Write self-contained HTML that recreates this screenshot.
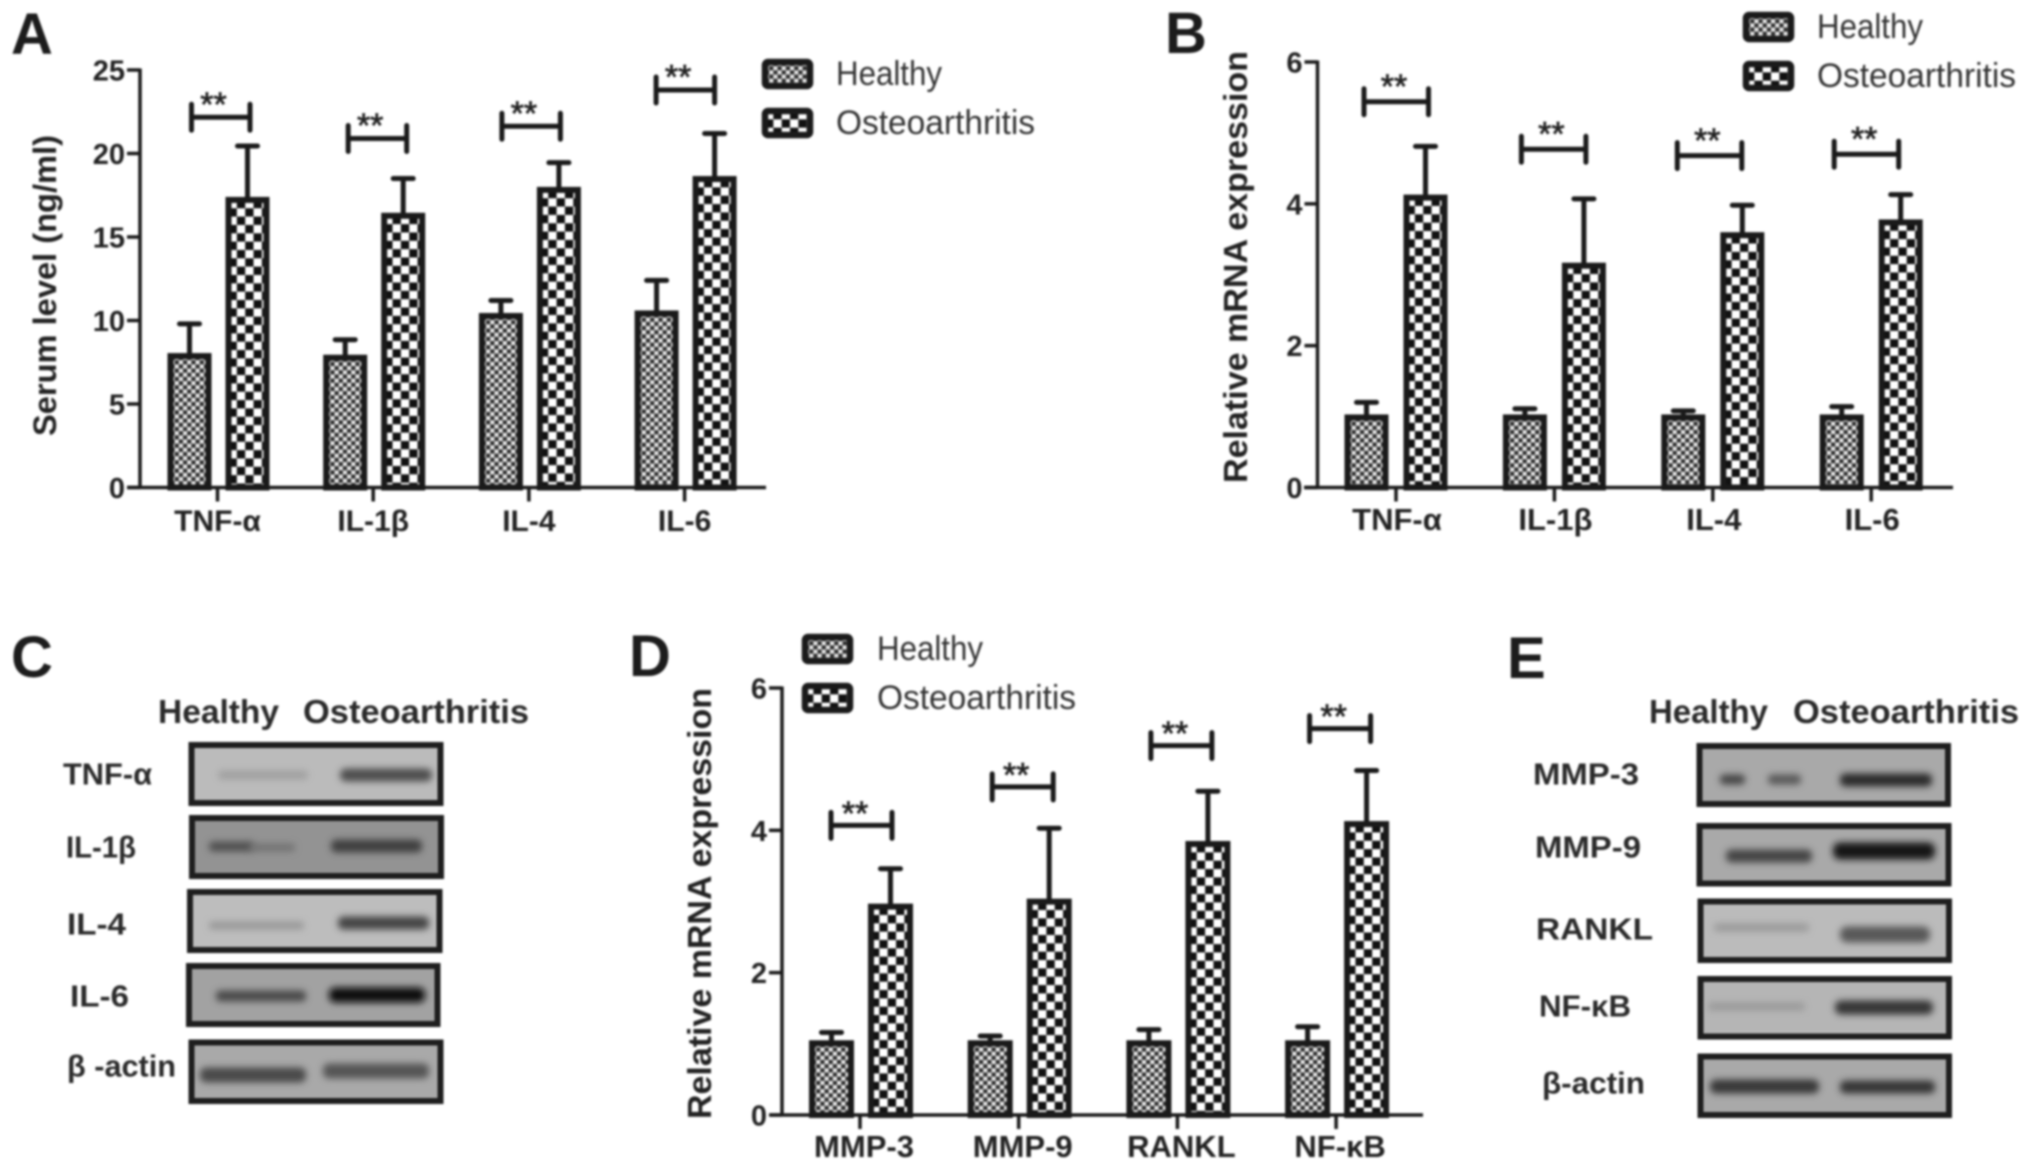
<!DOCTYPE html>
<html lang="en">
<head>
<meta charset="utf-8">
<title>Serum level and mRNA expression in healthy and osteoarthritis groups</title>
<style>
html,body{margin:0;padding:0;background:#fff;width:2031px;height:1169px;overflow:hidden}
svg{display:block;filter:blur(1px)}
text{font-family:"Liberation Sans",Arial,sans-serif;fill:#222}
.letter{font-size:58px;font-weight:700;fill:#1c1c1c}
.blot-label{font-size:31px;font-weight:700;fill:#2a2a2a}
.blot-head{font-size:33px;font-weight:700;fill:#2a2a2a}
.frame{stroke:#1e1e1e;stroke-width:6;}
</style>
</head>
<body>
<svg id="fig" xmlns="http://www.w3.org/2000/svg" width="2031" height="1169" viewBox="0 0 2031 1169">
<defs>
<pattern id="fine" width="8.34" height="8.34" patternUnits="userSpaceOnUse">
<rect width="8.34" height="8.34" fill="#e8e8e8"/>
<rect width="4.17" height="4.17" fill="#2c2c2c"/>
<rect x="4.17" y="4.17" width="4.17" height="4.17" fill="#2c2c2c"/>
</pattern>
<pattern id="coarse" width="16.68" height="16.68" patternUnits="userSpaceOnUse">
<rect width="16.68" height="16.68" fill="#fff"/>
<rect x="8.34" width="8.34" height="8.34" fill="#111"/>
<rect y="8.34" width="8.34" height="8.34" fill="#111"/>
</pattern>
<filter id="band-blur" x="-30%" y="-250%" width="160%" height="600%"><feGaussianBlur stdDeviation="3.4"/></filter>
</defs>

<text class="letter" x="11" y="54">A</text>
<text class="letter" x="1165" y="53">B</text>
<text class="letter" x="11" y="677">C</text>
<text class="letter" x="629" y="676">D</text>
<text class="letter" x="1507" y="678">E</text>

<g id="panel-a"></g>
<g id="panel-b"></g>
<g id="panel-d"></g>

<g transform="translate(0,-1.5)">
<text class="blot-head" x="158" y="724.500" textLength="121" lengthAdjust="spacingAndGlyphs">Healthy</text>
<text class="blot-head" x="303" y="724.500" textLength="226" lengthAdjust="spacingAndGlyphs">Osteoarthritis</text>

<text class="blot-label" x="63" y="786" textLength="89" lengthAdjust="spacingAndGlyphs">TNF-α</text>
<rect x="191.500" y="746.500" width="249" height="58" fill="#bbbbbb" class="frame"/>
<rect x="218" y="772" width="90" height="9" rx="4" fill="#a0a0a0" filter="url(#band-blur)"/>
<rect x="340" y="770" width="92" height="13" rx="6" fill="#4e4e4e" filter="url(#band-blur)"/>

<text class="blot-label" x="66" y="859" textLength="70" lengthAdjust="spacingAndGlyphs">IL-1β</text>
<rect x="192" y="819.500" width="249" height="58" fill="#939393" class="frame"/>
<rect x="209" y="843" width="45" height="10" rx="4" fill="#505050" filter="url(#band-blur)"/>
<rect x="250" y="845" width="45" height="8" rx="3" fill="#727272" filter="url(#band-blur)"/>
<rect x="331" y="841" width="91" height="13" rx="5" fill="#404040" filter="url(#band-blur)"/>

<text class="blot-label" x="67" y="936" textLength="59" lengthAdjust="spacingAndGlyphs">IL-4</text>
<rect x="190" y="893.500" width="249.500" height="58" fill="#bdbdbd" class="frame"/>
<rect x="209" y="923" width="95" height="8" rx="3" fill="#989898" filter="url(#band-blur)"/>
<rect x="338" y="918" width="91" height="13" rx="5" fill="#444444" filter="url(#band-blur)"/>

<text class="blot-label" x="70" y="1008" textLength="59" lengthAdjust="spacingAndGlyphs">IL-6</text>
<rect x="189" y="967.500" width="248.500" height="58" fill="#a2a2a2" class="frame"/>
<rect x="216" y="992" width="90" height="11" rx="4" fill="#4a4a4a" filter="url(#band-blur)"/>
<rect x="329" y="989" width="96" height="15" rx="6" fill="#0c0c0c" filter="url(#band-blur)"/>

<text class="blot-label" x="67" y="1078" textLength="109" lengthAdjust="spacingAndGlyphs">β -actin</text>
<rect x="191.500" y="1044" width="249" height="58.500" fill="#a9a9a9" class="frame"/>
<rect x="200" y="1069" width="106" height="15" rx="6" fill="#4a4a4a" filter="url(#band-blur)"/>
<rect x="323" y="1065" width="106" height="15" rx="6" fill="#545454" filter="url(#band-blur)"/>
</g>

<g transform="translate(0,-1.5)">
<text class="blot-head" x="1649" y="724.500" textLength="119" lengthAdjust="spacingAndGlyphs">Healthy</text>
<text class="blot-head" x="1793" y="724.500" textLength="226" lengthAdjust="spacingAndGlyphs">Osteoarthritis</text>

<text class="blot-label" x="1533" y="786" textLength="106" lengthAdjust="spacingAndGlyphs">MMP-3</text>
<rect x="1699.500" y="747.500" width="248.500" height="58" fill="#a9a9a9" class="frame"/>
<rect x="1720" y="776" width="25" height="10" rx="4" fill="#444444" filter="url(#band-blur)"/>
<rect x="1768" y="776" width="33" height="10" rx="4" fill="#585858" filter="url(#band-blur)"/>
<rect x="1840" y="775" width="92" height="13" rx="5" fill="#2a2a2a" filter="url(#band-blur)"/>

<text class="blot-label" x="1535" y="859" textLength="106" lengthAdjust="spacingAndGlyphs">MMP-9</text>
<rect x="1699.500" y="827.500" width="249" height="57.500" fill="#a9a9a9" class="frame"/>
<rect x="1726" y="851" width="86" height="13" rx="5" fill="#444444" filter="url(#band-blur)"/>
<rect x="1833" y="844" width="102" height="17" rx="7" fill="#161616" filter="url(#band-blur)"/>

<text class="blot-label" x="1536" y="941" textLength="117" lengthAdjust="spacingAndGlyphs">RANKL</text>
<rect x="1700.500" y="903" width="248.500" height="58.500" fill="#bbbbbb" class="frame"/>
<rect x="1714" y="925" width="95" height="8" rx="3" fill="#9a9a9a" filter="url(#band-blur)"/>
<rect x="1840" y="928" width="90" height="16" rx="7" fill="#585858" filter="url(#band-blur)"/>

<text class="blot-label" x="1539" y="1018" textLength="92" lengthAdjust="spacingAndGlyphs">NF-κB</text>
<rect x="1700.500" y="980.500" width="248.500" height="57.500" fill="#b5b5b5" class="frame"/>
<rect x="1708" y="1004" width="97" height="8" rx="3" fill="#9a9a9a" filter="url(#band-blur)"/>
<rect x="1835" y="1002" width="98" height="14" rx="6" fill="#343434" filter="url(#band-blur)"/>

<text class="blot-label" x="1542" y="1095" textLength="103" lengthAdjust="spacingAndGlyphs">β-actin</text>
<rect x="1700.500" y="1058" width="248.500" height="58.500" fill="#a9a9a9" class="frame"/>
<rect x="1710" y="1081" width="109" height="14" rx="6" fill="#383838" filter="url(#band-blur)"/>
<rect x="1840" y="1082" width="95" height="13" rx="5" fill="#363636" filter="url(#band-blur)"/>
</g>
</svg>

<script>
// Panel A data
const aCategories = ['TNF-α', 'IL-1β', 'IL-4', 'IL-6'];
const aHealthy = [8.05, 7.95, 10.45, 10.6];
const aHealthyTop = [9.8, 8.85, 11.2, 12.4];
const aOsteo = [17.4, 16.45, 18.0, 18.65];
const aOsteoTop = [20.45, 18.5, 19.45, 21.2];
const aBracket = [22.17, 20.9, 21.63, 23.8];
const aTicks = [0, 5, 10, 15, 20, 25];

// Panel B data
const bCategories = ['TNF-α', 'IL-1β', 'IL-4', 'IL-6'];
const bHealthy = [1.03, 1.03, 1.03, 1.03];
const bHealthyTop = [1.2, 1.11, 1.08, 1.14];
const bOsteo = [4.13, 3.17, 3.6, 3.78];
const bOsteoTop = [4.81, 4.07, 3.98, 4.13];
const bBracket = [5.44, 4.77, 4.68, 4.7];
const bTicks = [0, 2, 4, 6];

// Panel D data
const dCategories = ['MMP-3', 'MMP-9', 'RANKL', 'NF-κB'];
const dHealthy = [1.05, 1.05, 1.05, 1.05];
const dHealthyTop = [1.16, 1.11, 1.2, 1.24];
const dOsteo = [2.97, 3.04, 3.85, 4.13];
const dOsteoTop = [3.46, 4.03, 4.55, 4.84];
const dBracket = [4.07, 4.61, 5.19, 5.43];
const dTicks = [0, 2, 4, 6];

const SVGNS = 'http://www.w3.org/2000/svg';

function mk(parent, tag, props, txt) {
  const el = document.createElementNS(SVGNS, tag);
  for (const k in props) el.setAttribute(k, props[k]);
  if (txt !== undefined) el.textContent = txt;
  parent.appendChild(el);
  return el;
}

function drawPanel(rootId, categories, healthy, healthyTop, osteo, osteoTop, bracket, ticks, yTitle, cfg) {
  const root = document.getElementById(rootId);
  const yMax = ticks[ticks.length - 1];
  const yScale = v => cfg.y0 - (v / yMax) * (cfg.y0 - cfg.yTop);
  const xScale = i => cfg.x0 + i * cfg.step;
  const ink = '#1a1a1a';
  const barStroke = 6;
  let el;

  // y axis
  el = mk(root, 'line', {x1: cfg.axisX, x2: cfg.axisX, y1: cfg.y0, y2: cfg.yTop - 1.5, stroke: ink, 'stroke-width': 3.5});
  
  

  ticks.forEach(t => {
    const y = yScale(t);
    let tk = mk(root, 'line', {x1: cfg.axisX - 13, x2: cfg.axisX, y1: y, y2: y, stroke: ink, 'stroke-width': 3.5});
    
    
    let lb = mk(root, 'text', {x: cfg.axisX - 15, y: y + 10.5, 'text-anchor': 'end', 'font-size': 29, 'font-weight': 700}, String(t));
    
    
  });

  // y title
  const ty = (cfg.titleTop + cfg.titleBottom) / 2;
  el = mk(root, 'text', {
    x: cfg.titleX, y: ty, 'text-anchor': 'middle', 'font-size': cfg.titleSize, 'font-weight': 700,
    textLength: cfg.titleBottom - cfg.titleTop, lengthAdjust: 'spacingAndGlyphs',
    transform: 'rotate(-90 ' + cfg.titleX + ' ' + ty + ')'
  }, yTitle);
  
  

  categories.forEach((cat, i) => {
    const c = xScale(i);

    // healthy error bar
    const hx = c + cfg.healthyOffset;
    let e1 = mk(root, 'path', {
      d: 'M' + hx + ' ' + yScale(healthy[i]) + 'V' + yScale(healthyTop[i]) + 'M' + (hx - 10) + ' ' + yScale(healthyTop[i]) + 'H' + (hx + 10),
      stroke: ink, 'stroke-width': 5, fill: 'none', 'stroke-linecap': 'round'
    });
    
    

    // osteoarthritis error bar
    const ox = c + cfg.osteoOffset;
    let e2 = mk(root, 'path', {
      d: 'M' + ox + ' ' + yScale(osteo[i]) + 'V' + yScale(osteoTop[i]) + 'M' + (ox - 10) + ' ' + yScale(osteoTop[i]) + 'H' + (ox + 10),
      stroke: ink, 'stroke-width': 5, fill: 'none', 'stroke-linecap': 'round'
    });
    
    

    // bars: translated so each bar's pattern starts at its own corner
    const hTop = yScale(healthy[i]) + barStroke / 2;
    let b1 = mk(root, 'rect', {
      x: 0, y: 0, width: cfg.barW - barStroke, height: cfg.y0 - hTop,
      transform: 'translate(' + (hx - cfg.barW / 2 + barStroke / 2) + ' ' + hTop + ')',
      fill: 'url(#fine)', stroke: ink, 'stroke-width': barStroke
    });
    
    

    const oTop = yScale(osteo[i]) + barStroke / 2;
    let b2 = mk(root, 'rect', {
      x: 0, y: 0, width: cfg.barW - barStroke, height: cfg.y0 - oTop,
      transform: 'translate(' + (ox - cfg.barW / 2 + barStroke / 2) + ' ' + oTop + ')',
      fill: 'url(#coarse)', stroke: ink, 'stroke-width': barStroke
    });
    
    

    // x tick
    let xt = mk(root, 'line', {x1: c, x2: c, y1: cfg.y0, y2: cfg.y0 + 14, stroke: ink, 'stroke-width': 3.5});
    
    

    // category label
    let xl = mk(root, 'text', {x: c + cfg.labelOffset, y: cfg.labelY, 'text-anchor': 'middle', 'font-size': cfg.labelSize, 'font-weight': 700}, cat);
    
    

    // significance bracket
    const by = yScale(bracket[i]);
    const nudge = cfg.bracketNudge[i];
    const bl = c + nudge + cfg.bracketLeft, br = c + nudge + cfg.bracketRight;
    let bk = mk(root, 'path', {
      d: 'M' + bl + ' ' + by + 'H' + br + 'M' + bl + ' ' + (by - 13) + 'V' + (by + 13) + 'M' + br + ' ' + (by - 13) + 'V' + (by + 13),
      stroke: ink, 'stroke-width': 5, fill: 'none', 'stroke-linecap': 'round'
    });
    
    

    let st = mk(root, 'text', {x: c + nudge + cfg.starOffset, y: by - cfg.starRise + 18.5, 'text-anchor': 'middle', 'font-size': 34, 'font-weight': 400, stroke: '#222', 'stroke-width': 0.7}, '**');
    
    
  });

  // x axis
  el = mk(root, 'line', {x1: cfg.axisStart, x2: cfg.axisEnd, y1: cfg.y0, y2: cfg.y0, stroke: ink, 'stroke-width': 3.5});
  
  

  // legend
  let s1 = mk(root, 'rect', {x: 0, y: 0, width: 45, height: 24, rx: 3, transform: 'translate(' + (cfg.legX + 3) + ' ' + (cfg.legY1 + 3) + ')', fill: 'url(#fine)', stroke: ink, 'stroke-width': 6.5});
  
  
  let t1 = mk(root, 'text', {x: cfg.legTextX, y: cfg.legY1 + 26, 'font-size': 34, textLength: 106, lengthAdjust: 'spacingAndGlyphs', style: 'fill:#333'}, 'Healthy');
  
  
  let s2 = mk(root, 'rect', {x: 0, y: 0, width: 45, height: 24, rx: 3, transform: 'translate(' + (cfg.legX + 3) + ' ' + (cfg.legY2 + 3) + ')', fill: 'url(#coarse)', stroke: ink, 'stroke-width': 6.5});
  
  
  let t2 = mk(root, 'text', {x: cfg.legTextX, y: cfg.legY2 + 26, 'font-size': 34, textLength: 199, lengthAdjust: 'spacingAndGlyphs', style: 'fill:#333'}, 'Osteoarthritis');
  
  
}

drawPanel('panel-a', aCategories, aHealthy, aHealthyTop, aOsteo, aOsteoTop, aBracket, aTicks, 'Serum level (ng/ml)', {
  y0: 487.5, yTop: 70, axisX: 140, axisStart: 127, axisEnd: 766,
  x0: 217.5, step: 155.7, barW: 44, healthyOffset: -28, osteoOffset: 30,
  labelY: 531, labelSize: 30, labelOffset: 0,
  bracketLeft: -26, bracketRight: 32.5, bracketNudge: [0, 1, -1, -2.5], starOffset: -4, starRise: 20,
  titleX: 56, titleTop: 135, titleBottom: 436, titleSize: 32,
  legX: 762, legY1: 59, legY2: 108, legTextX: 836
});

drawPanel('panel-b', bCategories, bHealthy, bHealthyTop, bOsteo, bOsteoTop, bBracket, bTicks, 'Relative mRNA expression', {
  y0: 487.5, yTop: 62, axisX: 1317.5, axisStart: 1304, axisEnd: 1953,
  x0: 1396, step: 158.4, barW: 44, healthyOffset: -29.5, osteoOffset: 29.5,
  labelY: 530, labelSize: 31, labelOffset: 1,
  bracketLeft: -32, bracketRight: 32.5, bracketNudge: [0, -1, -3.5, -5], starOffset: -2, starRise: 22,
  titleX: 1247, titleTop: 51, titleBottom: 483, titleSize: 33,
  legX: 1743, legY1: 12, legY2: 61, legTextX: 1817
});

drawPanel('panel-d', dCategories, dHealthy, dHealthyTop, dOsteo, dOsteoTop, dBracket, dTicks, 'Relative mRNA expression', {
  y0: 1115, yTop: 688, axisX: 782, axisStart: 770, axisEnd: 1423,
  x0: 860, step: 158.7, barW: 45, healthyOffset: -28.5, osteoOffset: 30.5,
  labelY: 1157, labelSize: 31, labelOffset: 4,
  bracketLeft: -29, bracketRight: 32, bracketNudge: [0, 2.5, 2.5, 2.5], starOffset: -5, starRise: 19,
  titleX: 711, titleTop: 688, titleBottom: 1119, titleSize: 33,
  legX: 802, legY1: 634, legY2: 683, legTextX: 877
});
</script>
</body>
</html>
